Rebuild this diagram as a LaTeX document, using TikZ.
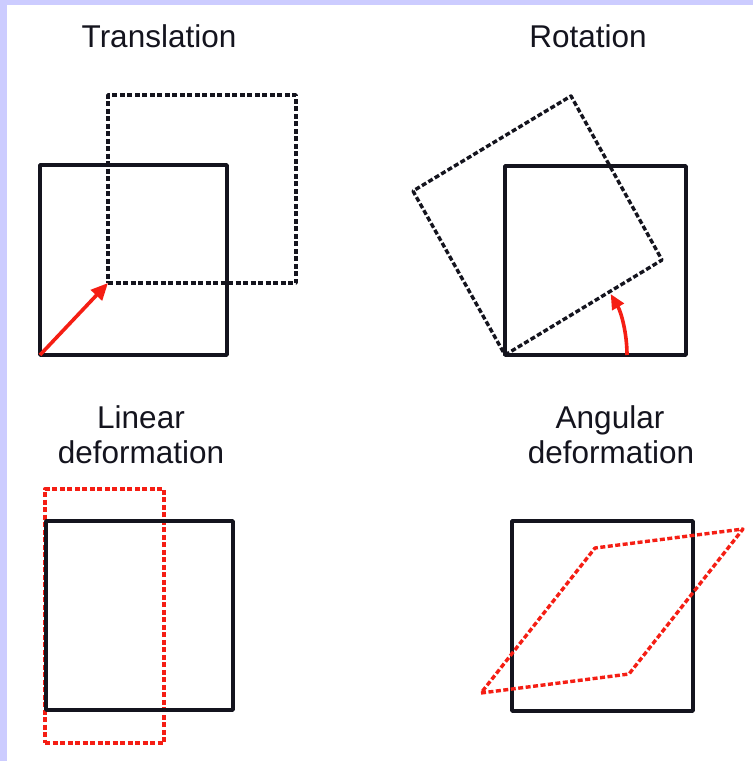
\documentclass[tikz,border=0pt]{standalone}
\usepackage{fontspec}
\setmainfont{Liberation Sans}
\usetikzlibrary{arrows.meta}
\definecolor{lav}{RGB}{204,204,255}
\definecolor{inkblack}{RGB}{20,20,30}
\definecolor{inkred}{RGB}{245,30,20}
\begin{document}
\begin{tikzpicture}[x=1pt,y=-1pt,
  solidsq/.style={draw=inkblack, line width=3.6pt, line join=round},
  dashsq/.style={draw=inkblack, line width=3.4pt, dash pattern=on 5pt off 2.5pt, line join=round},
  reddash/.style={draw=inkred, line width=3.4pt, dash pattern=on 5pt off 2.5pt, line join=round},
  redarrow/.style={draw=inkred, line width=3.6pt, -{Triangle[length=17pt,width=15pt]}},
  lbl/.style={font=\fontsize{31.5}{38}\selectfont, anchor=base, inner sep=0pt, text=inkblack}]
\useasboundingbox (0,0) rectangle (753,761);
\fill[lav] (0,0) rectangle (753,761);
\fill[white] (7,5) rectangle (753,761);

% Titles
\node[lbl] (ttrans) at (159,47) {Translation};
\node[lbl] (trot) at (588,47) {Rotation};
\node[lbl] (tlin1) at (141,428) {Linear};
\node[lbl] (tlin2) at (141,463) {deformation};
\node[lbl] (tang1) at (610,428) {Angular};
\node[lbl] (tang2) at (611,463) {deformation};

% Translation
\coordinate (ta) at (40,355);
\coordinate (tb) at (227,355);
\coordinate (tc) at (227,165);
\coordinate (td) at (40,165);
\coordinate (da) at (108,283);
\coordinate (db) at (296,283);
\coordinate (dc) at (296,95);
\coordinate (dd) at (108,95);
\draw[dashsq] (da) -- (db) -- (dc) -- (dd) -- cycle;
\draw[solidsq] (ta) -- (tb) -- (tc) -- (td) -- cycle;
\draw[redarrow] (ta) -- (da);

% Rotation
\coordinate (ra) at (505,355);
\coordinate (rb) at (686,355);
\coordinate (rc) at (686,166);
\coordinate (rd) at (505,166);
\coordinate (qb) at (662,260);
\coordinate (qc) at (571,96);
\coordinate (qd) at (413,191);
\draw[solidsq] (ra) -- (rb) -- (rc) -- (rd) -- cycle;
\draw[dashsq] (ra) -- (qb) -- (qc) -- (qd) -- cycle;
\coordinate (r0) at (627,355);
\draw[redarrow, -{Triangle[length=15pt,width=13pt]}] (r0) arc[start angle=0, end angle=-30, radius=122];

% Linear deformation
\coordinate (la) at (46,710);
\coordinate (lb) at (233,710);
\coordinate (lc) at (233,521);
\coordinate (ld) at (46,521);
\coordinate (ma) at (45,743);
\coordinate (mb) at (164,743);
\coordinate (mc) at (164,489);
\coordinate (md) at (45,489);
\draw[reddash] (ma) -- (mb) -- (mc) -- (md) -- cycle;
\draw[solidsq] (la) -- (lb) -- (lc) -- (ld) -- cycle;

% Angular deformation
\coordinate (aa) at (512,711);
\coordinate (ab) at (693,711);
\coordinate (ac) at (693,521);
\coordinate (ad) at (512,521);
\coordinate (pa) at (481,693);
\coordinate (pb) at (629,674);
\coordinate (pc) at (743,529);
\coordinate (pd) at (595,548);
\draw[solidsq] (aa) -- (ab) -- (ac) -- (ad) -- cycle;
\draw[reddash] (pa) -- (pb) -- (pc) -- (pd) -- cycle;
\end{tikzpicture}
\end{document}
